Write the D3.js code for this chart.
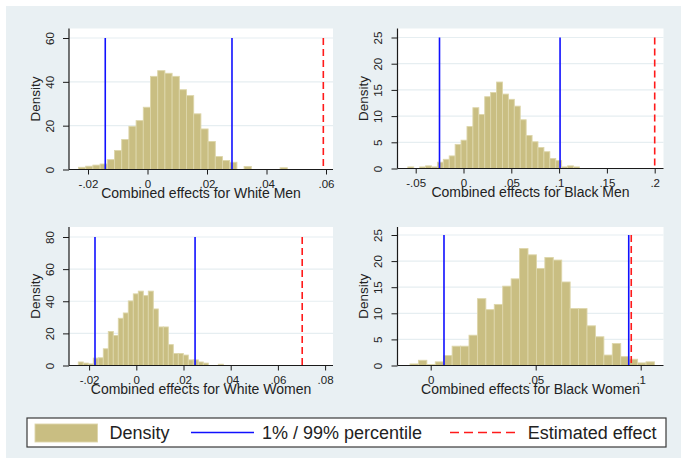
<!DOCTYPE html>
<html>
<head>
<meta charset="utf-8">
<script src="https://cdn.jsdelivr.net/npm/d3@7"></script>
<style>
  html, body { margin: 0; padding: 0; background: #ffffff; }
  svg { display: block; }
</style>
</head>
<body>
<svg id="chart" width="681" height="458"></svg>
<script>
// Simulated combined effects: histogram densities (bin heights, left to right)
const whiteMenDensity   = [1.0, 1.5, 2.0, 2.5, 4.5, 8.7, 13.7, 19.7, 22.3, 28.4, 42.5, 45.1, 43.9, 42.5, 36.4,
                           33.7, 25.4, 18.5, 12.8, 5.9, 4.1, 3.3, 0, 1.4, 0, 0, 0, 0, 0.8];
const blackMenDensity   = [0.3, 0, 0.3, 0.5, 0.3, 1.2, 1.75, 2.4, 4.6, 5.4, 8.0, 11.6, 10.3, 13.7, 14.5,
                           16.5, 14.2, 13.2, 11.9, 9.3, 6.3, 5.1, 4.0, 3.2, 1.9, 1.5, 0.3, 0.5, 0.3];
const whiteWomenDensity = [2.2, 1.5, 1.0, 4.6, 4.8, 10.4, 21.2, 18.7, 29.4, 32.7, 40.2, 44.6, 46.3, 43.5, 46.3,
                           35.2, 24, 24, 13, 7.5, 7.5, 6.5, 3.5, 3.5, 2.2, 1.5, 0, 0, 0.8];
const blackWomenDensity = [0.3, 1.0, 0.2, 0.7, 1.9, 3.7, 3.7, 5.8, 12.8, 10.7, 11.7, 15.2, 16.6, 22.4, 21.2,
                           18.6, 20.7, 20.2, 16.0, 10.9, 10.9, 7.6, 5.5, 2.0, 4.2, 1.7, 1.2, 0.5, 0.7];

// Histogram bin definition for each group (lower edge of first bin, bin width)
const binStart = [-0.02319, -0.05826, -0.02458, -0.00986];
const binWidth = [0.00242, 0.00619, 0.002119, 0.004014];

// 1% / 99% percentiles of the simulated distribution and the estimated effect
const pctLow    = [-0.0142, -0.0251, -0.0175, 0.00633];
const pctHigh   = [0.0284, 0.1010, 0.0249, 0.0943];
const estimated = [0.0591, 0.2000, 0.0703, 0.0955];

const groups = ["White Men", "Black Men", "White Women", "Black Women"];

// Axis ticks
const xTicks = [
  [-0.02, 0, 0.02, 0.04, 0.06],
  [-0.05, 0, 0.05, 0.1, 0.15, 0.2],
  [-0.02, 0, 0.02, 0.04, 0.06, 0.08],
  [0, 0.05, 0.1]
];
const xTickLabels = [
  ["-.02", "0", ".02", ".04", ".06"],
  ["-.05", "0", ".05", ".1", ".15", ".2"],
  ["-.02", "0", ".02", ".04", ".06", ".08"],
  ["0", ".05", ".1"]
];
const yTicks = [
  [0, 20, 40, 60],
  [0, 5, 10, 15, 20, 25],
  [0, 20, 40, 60, 80],
  [0, 5, 10, 15, 20, 25]
];

const legendLabels = ["Density", "1% / 99% percentile", "Estimated effect"];

// ---- styling ----
const FONT = "'Liberation Sans', Arial, Helvetica, sans-serif";
const BG = "#e9f0f3";
const BAR_FILL = "#c9be82";
const BAR_STROKE = "#ddd6aa";
const BLUE = "#1010ff";
const RED = "#ff1a1a";
const AXIS = "#1a1a1a";
const GRID = "#e6eef1";

const svg = d3.select("#chart");

// graph region background
svg.append("rect")
  .attr("x", 6).attr("y", 6)
  .attr("width", 675).attr("height", 452)
  .attr("fill", BG);

// panel frames: plot region and the pixel span covered by the first/last tick
const panels = [
  { left: 69,    right: 333,   top: 28.5, bottom: 169.5, xr: [88, 326],      yr: [169.5, 38] },
  { left: 397.5, right: 663.5, top: 28.5, bottom: 168.5, xr: [415.7, 654.7], yr: [168.5, 37.5] },
  { left: 69,    right: 333,   top: 227,  bottom: 365.5, xr: [89.1, 325.1],  yr: [365.5, 237] },
  { left: 397.5, right: 663.5, top: 227,  bottom: 365.5, xr: [430.7, 640.7], yr: [365.5, 235] }
];
const densities = [whiteMenDensity, blackMenDensity, whiteWomenDensity, blackWomenDensity];

panels.forEach((p, i) => {
  const xt = xTicks[i], yt = yTicks[i];
  const x = d3.scaleLinear().domain([xt[0], xt[xt.length - 1]]).range(p.xr);
  const y = d3.scaleLinear().domain([yt[0], yt[yt.length - 1]]).range(p.yr);
  const g = svg.append("g");

  // plot region
  g.append("rect")
    .attr("x", p.left).attr("y", p.top)
    .attr("width", p.right - p.left).attr("height", p.bottom - p.top)
    .attr("fill", "#ffffff");

  // horizontal gridlines
  g.selectAll("line.grid").data(yt.filter(v => v !== 0)).enter().append("line")
    .attr("class", "grid")
    .attr("x1", p.left).attr("x2", p.right)
    .attr("y1", d => y(d)).attr("y2", d => y(d))
    .attr("stroke", GRID).attr("stroke-width", 1.2);

  // histogram bars
  const bins = densities[i].map((h, k) => ({
    x0: binStart[i] + k * binWidth[i],
    x1: binStart[i] + (k + 1) * binWidth[i],
    h: h
  })).filter(b => b.h > 0);
  g.selectAll("rect.bar").data(bins).enter().append("rect")
    .attr("class", "bar")
    .attr("x", d => x(d.x0))
    .attr("width", d => x(d.x1) - x(d.x0))
    .attr("y", d => y(d.h))
    .attr("height", d => y(0) - y(d.h))
    .attr("fill", BAR_FILL)
    .attr("stroke", BAR_STROKE)
    .attr("stroke-width", 0.9);

  const yTop = y(yt[yt.length - 1]);

  // percentile lines
  g.selectAll("line.pct").data([pctLow[i], pctHigh[i]]).enter().append("line")
    .attr("class", "pct")
    .attr("x1", d => x(d)).attr("x2", d => x(d))
    .attr("y1", yTop).attr("y2", y(0))
    .attr("stroke", BLUE).attr("stroke-width", 1.6);

  // estimated effect
  g.append("line")
    .attr("x1", x(estimated[i])).attr("x2", x(estimated[i]))
    .attr("y1", yTop).attr("y2", y(0))
    .attr("stroke", RED).attr("stroke-width", 1.6)
    .attr("stroke-dasharray", "7,4");

  // x axis
  const xAxis = d3.axisBottom(x).tickValues(xt)
    .tickFormat((d, k) => xTickLabels[i][k])
    .tickSize(5).tickPadding(3);
  const gx = g.append("g").attr("transform", `translate(0,${p.bottom})`).call(xAxis);
  gx.select(".domain").remove();
  gx.append("line")
    .attr("x1", p.left).attr("x2", p.right).attr("y1", 0).attr("y2", 0)
    .attr("stroke", AXIS).attr("stroke-width", 1.2);
  gx.selectAll(".tick line").attr("stroke", AXIS).attr("stroke-width", 1);
  gx.selectAll(".tick text")
    .attr("font-family", FONT).attr("font-size", 11.5).attr("fill", "#222")
    .attr("dy", null).attr("y", 18.5);

  // y axis
  const yAxis = d3.axisLeft(y).tickValues(yt).tickSize(6).tickFormat(d3.format("d"));
  const gy = g.append("g").attr("transform", `translate(${p.left},0)`).call(yAxis);
  gy.select(".domain").remove();
  gy.append("line")
    .attr("x1", 0).attr("x2", 0).attr("y1", p.top).attr("y2", p.bottom)
    .attr("stroke", AXIS).attr("stroke-width", 1.2);
  gy.selectAll(".tick line").attr("stroke", AXIS).attr("stroke-width", 1);
  gy.selectAll(".tick text")
    .attr("font-family", FONT).attr("font-size", 11.5).attr("fill", "#222")
    .attr("x", null).attr("dy", null)
    .attr("text-anchor", "middle")
    .attr("transform", "translate(-15.5,0) rotate(-90)");

  // axis titles
  g.append("text")
    .attr("x", (p.left + p.right) / 2)
    .attr("y", p.bottom + 28.5)
    .attr("text-anchor", "middle")
    .attr("font-family", FONT).attr("font-size", 14).attr("fill", "#222")
    .text("Combined effects for " + groups[i]);

  g.append("text")
    .attr("transform", `translate(${p.left - 29.5},${(p.top + p.bottom) / 2}) rotate(-90)`)
    .attr("text-anchor", "middle")
    .attr("font-family", FONT).attr("font-size", 13.5).attr("fill", "#222")
    .text("Density");
});

// ---- legend ----
const lg = svg.append("g");
lg.append("rect")
  .attr("x", 27).attr("y", 418).attr("width", 639).attr("height", 29)
  .attr("fill", "#ffffff").attr("stroke", "#3a3a3a").attr("stroke-width", 1.2);

lg.append("rect")
  .attr("x", 35).attr("y", 424).attr("width", 62.5).attr("height", 18)
  .attr("fill", BAR_FILL).attr("stroke", BAR_STROKE).attr("stroke-width", 0.9);

lg.append("line")
  .attr("x1", 191).attr("x2", 254).attr("y1", 432.5).attr("y2", 432.5)
  .attr("stroke", BLUE).attr("stroke-width", 1.6);

lg.append("line")
  .attr("x1", 450).attr("x2", 515).attr("y1", 432.5).attr("y2", 432.5)
  .attr("stroke", RED).attr("stroke-width", 1.6)
  .attr("stroke-dasharray", "9,5");

lg.selectAll("text.leg").data(legendLabels).enter().append("text")
  .attr("class", "leg")
  .attr("x", (d, k) => [109.5, 262, 527.8][k])
  .attr("y", 439)
  .attr("font-family", FONT).attr("font-size", 18).attr("fill", "#222")
  .text(d => d);
</script>
</body>
</html>
